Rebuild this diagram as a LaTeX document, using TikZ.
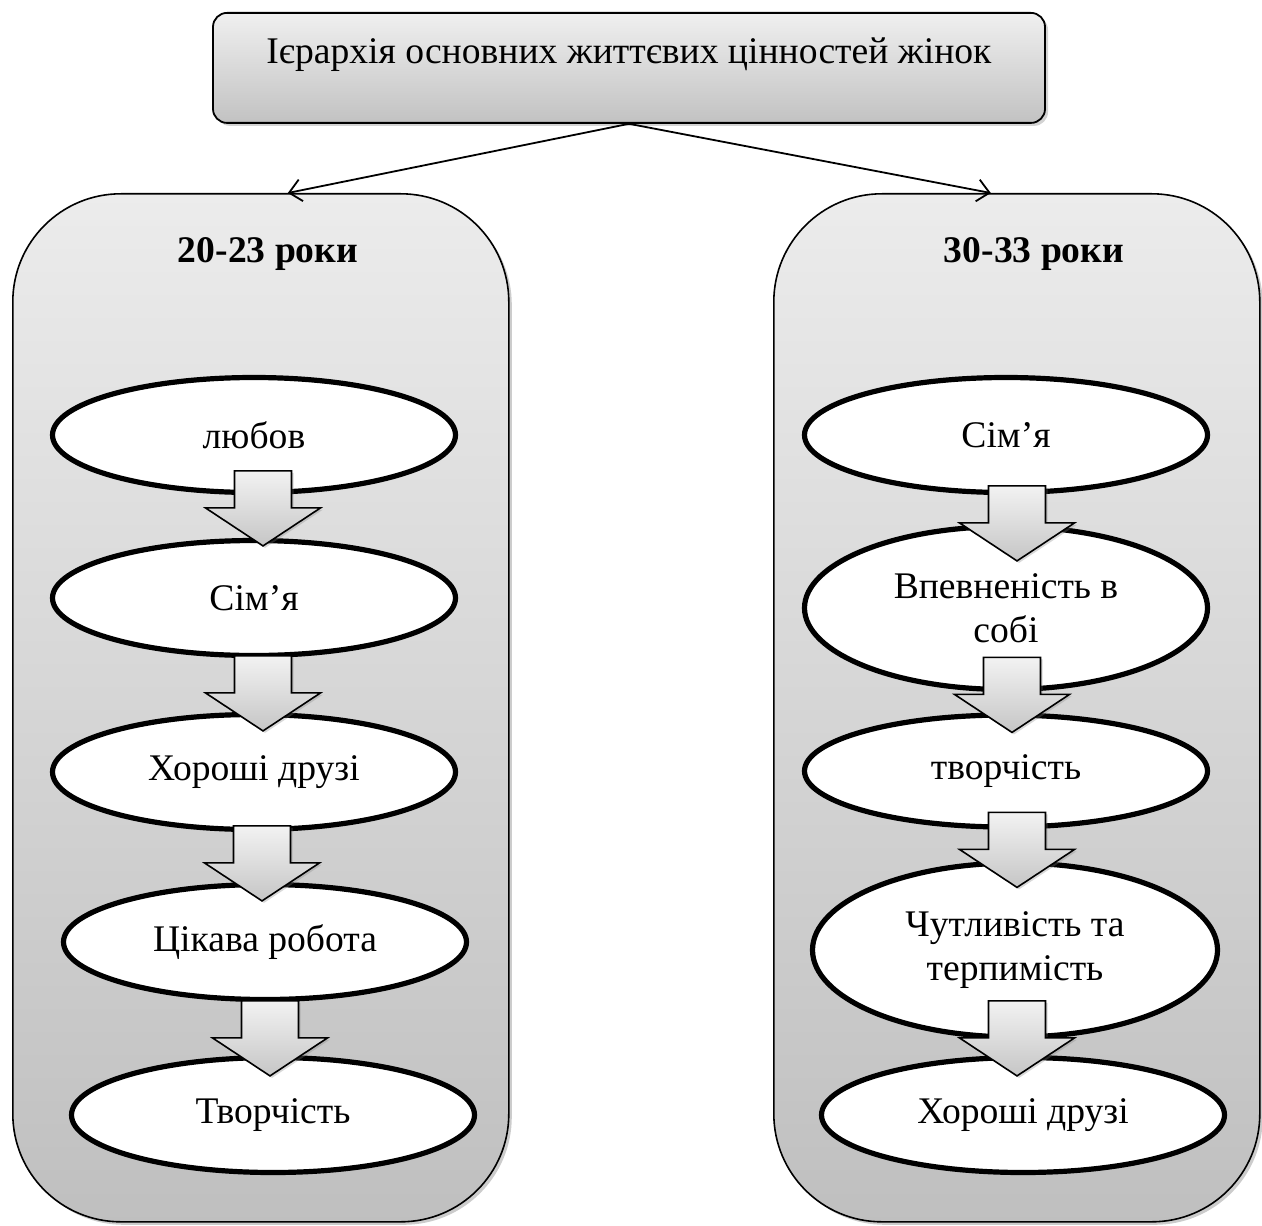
\documentclass[tikz,border=0pt]{standalone}
\usepackage{fontspec}
\setmainfont{Liberation Serif}
\usetikzlibrary{shapes.geometric,shadows,arrows.meta,calc}

\begin{document}
\begin{tikzpicture}[
    x=0.5pt, y=-0.5pt,
    every node/.style={font=\fontsize{18.8}{22}\selectfont},
    titlebox/.style={rectangle, draw=black, line width=0.9pt, rounded corners=7pt, top color=gray!12, bottom color=gray!48, drop shadow={shadow xshift=1.5pt, shadow yshift=-1.5pt, opacity=0.35}, minimum width=416pt, inner ysep=0pt, text height=25.5pt, text depth=29.5pt},
    agebox/.style={rectangle, draw=black, line width=0.8pt, rounded corners=54pt, top color=gray!15, bottom color=gray!50, drop shadow={shadow xshift=1.5pt, shadow yshift=-1.5pt, opacity=0.4}, minimum height=514pt, anchor=north west},
    agelabel/.style={font=\fontsize{18.8}{22}\selectfont\bfseries, anchor=base},
    value/.style={ellipse, draw=black, line width=2.6pt, fill=white, minimum width=201.5pt, minimum height=57.5pt, align=center, inner sep=0pt},
    link/.style={-{Straight Barb[length=6pt,width=11pt]}, line width=0.9pt},
    blockarr/.style={draw=black, line width=0.8pt, top color=gray!10, bottom color=gray!45, drop shadow={shadow xshift=1pt, shadow yshift=-1pt, opacity=0.3}},
    downarr/.pic={\path[blockarr] (-28.5,-75) -- (28.5,-75) -- (28.5,-38) -- (57.5,-38) -- (0,0) -- (-57.5,-38) -- (-28.5,-38) -- cycle;},
]
\useasboundingbox (0,0) rectangle (1262,1225);

\node[titlebox, anchor=north] (title) at (629,12) {Ієрархія основних життєвих цінностей жінок};

\node[agebox, minimum width=248pt] (young) at (12,193) {};
\node[agebox, minimum width=243pt] (mature) at (773,193) {};
\node[agelabel] (younglbl) at (268,263) {20-23 роки};
\node[agelabel] (maturelbl) at (1034,263) {30-33 роки};

\draw[link] (title.south) -- ([xshift=13.5pt]young.north);
\draw[link] (title.south) -- ([xshift=-13pt]mature.north);

% 20-23
\node[value] (y1) at (254,435) {любов};
\node[value] (y2) at (254,598) {Сім’я};
\node[value] (y3) at (254,772) {Хороші друзі};
\node[value] (y4) at (265,942) {Цікава робота};
\node[value] (y5) at (273,1115) {Творчість};

% 30-33
\node[value] (m1) at (1006,435) {Сім’я};
\node[value, minimum height=81.5pt] (m2) at (1006,608) {Впевненість в\\собі};
\node[value, minimum height=56pt] (m3) at (1006,771) {творчість};
\node[value, minimum height=87pt, minimum width=202.5pt] (m4) at (1015,950) {Чутливість та\\терпимість};
\node[value] (m5) at (1023,1115) {Хороші друзі};

\pic at ([shift={(9,8)}]y2.north) {downarr};
\pic at ([shift={(9,19)}]y3.north) {downarr};
\pic at ([shift={(-3,19)}]y4.north) {downarr};
\pic at ([shift={(-3,21)}]y5.north) {downarr};

\pic at ([shift={(11,37)}]m2.north) {downarr};
\pic at ([shift={(6,20)}]m3.north) {downarr};
\pic at ([shift={(2,27)}]m4.north) {downarr};
\pic at ([shift={(-6,21)}]m5.north) {downarr};
\end{tikzpicture}
\end{document}
